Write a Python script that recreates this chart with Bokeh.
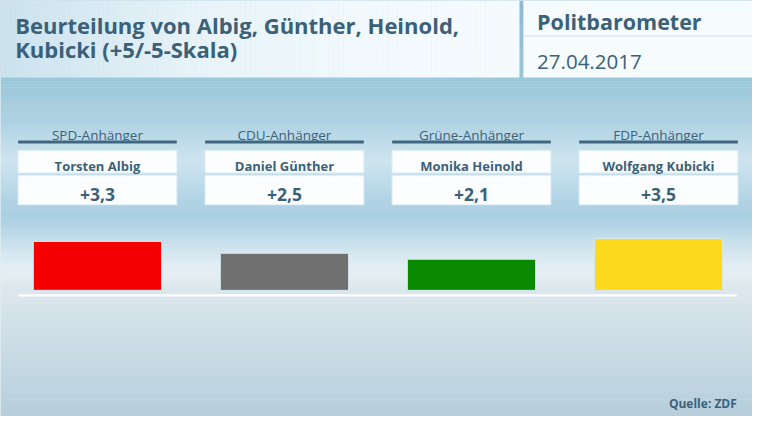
import numpy as np
from bokeh.plotting import figure
from bokeh.models import Range1d, ColumnDataSource
from bokeh.core.properties import value
from bokeh.embed import file_html
from bokeh.resources import INLINE

# ---- data ----
title_lines = ["Beurteilung von Albig, Günther, Heinold,", "Kubicki (+5/-5-Skala)"]
brand = "Politbarometer"
date_label = "27.04.2017"
source_label = "Quelle: ZDF"
groups = ["SPD-Anhänger", "CDU-Anhänger", "Grüne-Anhänger", "FDP-Anhänger"]
politicians = ["Torsten Albig", "Daniel Günther", "Monika Heinold", "Wolfgang Kubicki"]
ratings = [3.3, 2.5, 2.1, 3.5]
bar_colors = ["#f50000", "#707070", "#0a8a00", "#fcd91c"]

# ---- layout (reference pixel coordinates, scaled into the figure) ----
W, H = 752, 416
TXT = "#3b6179"
FONT = value("Open Sans")
p = figure(width=W, height=H, x_range=Range1d(0, 768), y_range=Range1d(432, 0),
           output_backend="svg", toolbar_location=None, min_border=0)
p.axis.visible = False
p.grid.visible = False
p.outline_line_color = None
p.background_fill_color = "#c8dde8"
p.border_fill_color = "#c8dde8"

# background vertical gradient
stops_y = [0, 80, 120, 165, 222, 275, 310, 432]
stops_c = np.array([(140, 185, 208), (155, 198, 217), (170, 208, 225), (207, 229, 240),
                    (166, 206, 226), (231, 240, 245), (218, 230, 236), (181, 206, 220)])
ys = np.arange(0, 432, 2)
cols = []
for y in ys:
    r = np.interp(y, stops_y, stops_c[:, 0]); g = np.interp(y, stops_y, stops_c[:, 1]); b = np.interp(y, stops_y, stops_c[:, 2])
    cols.append("#%02x%02x%02x" % (int(r), int(g), int(b)))
p.quad(left=0, right=768, top=ys, bottom=ys + 2.2, fill_color=cols, line_color=None)

# header left box: horizontal gradient
xs = np.arange(0, 530, 5)
hstops_x = [0, 200, 380, 530]
hstops_c = np.array([(204, 227, 238), (232, 244, 249), (243, 250, 253), (246, 251, 253)])
hcols = []
for x in xs:
    r = np.interp(x, hstops_x, hstops_c[:, 0]); g = np.interp(x, hstops_x, hstops_c[:, 1]); b = np.interp(x, hstops_x, hstops_c[:, 2])
    hcols.append("#%02x%02x%02x" % (int(r), int(g), int(b)))
p.quad(left=xs, right=np.minimum(xs + 5.5, 530), top=0, bottom=80, fill_color=hcols, line_color=None)
# header right box
p.quad(left=534, right=768, top=0, bottom=80, fill_color="#f6fbfd", line_color=None)
p.quad(left=534, right=768, top=36, bottom=38, fill_color="#dcebf2", line_color=None)

p.text(x=[15, 15], y=[25, 50], text=title_lines, text_font=FONT, text_font_style="bold",
       text_font_size="22px", text_color=TXT, text_baseline="alphabetic", text_align="left")
p.text(x=[548], y=[22], text=[brand], text_font=FONT, text_font_style="bold",
       text_font_size="21.5px", text_color=TXT, text_baseline="alphabetic", text_align="left")
p.text(x=[548], y=[64], text=[date_label], text_font=FONT,
       text_font_size="20.5px", text_color=TXT, text_baseline="alphabetic", text_align="left")

# columns
n = len(groups)
cx = [99 + 191 * i for i in range(n)]
labels = ["+" + ("%.1f" % v).replace(".", ",") for v in ratings]
src = ColumnDataSource(dict(x=cx, group=groups, name=politicians, lab=labels,
                            val=ratings, color=bar_colors))
p.text(x="x", y=140, text="group", source=src, text_font=FONT, text_font_size="13.5px",
       text_color=TXT, text_align="center", text_baseline="alphabetic")
p.rect(x="x", y=147, width=162, height=3, source=src, fill_color="#3f6780", line_color=None)
p.rect(x="x", y=167.5, width=162, height=23, source=src, fill_color="#fbfdfe", line_color="#e6f2f7")
p.rect(x="x", y=197, width=162, height=30, source=src, fill_color="#fbfdfe", line_color="#e6f2f7")
p.text(x="x", y=172, text="name", source=src, text_font=FONT, text_font_style="bold",
       text_font_size="13px", text_color=TXT, text_align="center", text_baseline="alphabetic")
p.text(x="x", y=201, text="lab", source=src, text_font=FONT, text_font_style="bold",
       text_font_size="17.5px", text_color=TXT, text_align="center", text_baseline="alphabetic")

# bars in a value range: 0 at y=301, 15.4 px per unit (reference px)
px_per_unit = 15.4
vstart = -(432 - 301) / px_per_unit
p.extra_y_ranges = {"val": Range1d(vstart, vstart + 432 / px_per_unit)}
p.vbar(x="x", top="val", bottom=0, width=131, source=src, y_range_name="val",
       fill_color="color", line_color="#d5eaf2", line_width=1)
p.quad(left=18, right=752, top=305, bottom=307.5, fill_color="white", line_color=None)

p.text(x=[752], y=[418], text=[source_label], text_font=FONT, text_font_style="bold",
       text_font_size="12px", text_color=TXT, text_align="right", text_baseline="alphabetic")

open("out.html", "w").write(file_html(p, INLINE))
